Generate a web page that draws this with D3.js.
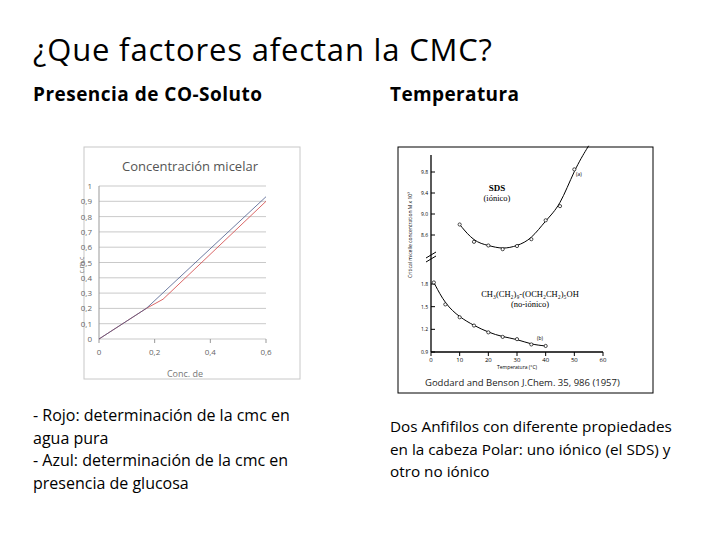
<!DOCTYPE html>
<html><head><meta charset="utf-8">
<script src="https://cdn.jsdelivr.net/npm/d3@7"></script>
<style>body{margin:0;background:#fff}svg{font-family:"Open Sans",sans-serif}</style>
</head><body><div id="svg-area"></div>
<script>
// left chart: concentracion micelar
const concX = [0, 0.17, 0.23, 0.6]
const rojo = [0, 0.2, 0.26, 0.9]
const azulX = [0, 0.17, 0.6]
const azul = [0, 0.2, 0.93]
const leftXTicks = [0, 0.2, 0.4, 0.6]
const leftYTicks = [0, 0.1, 0.2, 0.3, 0.4, 0.5, 0.6, 0.7, 0.8, 0.9, 1]

// right chart: cmc vs temperatura
const sdsT = [10, 15, 20, 25, 30, 35, 40, 45, 50]
const sdsCmc = [8.8, 8.47, 8.4, 8.33, 8.39, 8.52, 8.88, 9.15, 9.85]
const noT = [1, 5, 10, 15, 20, 25, 30, 35, 40]
const noCmc = [1.82, 1.53, 1.36, 1.25, 1.16, 1.1, 1.07, 1.0, 0.98]
const tempTicks = [0, 10, 20, 30, 40, 50, 60]
const upperTicks = [8.6, 9.0, 9.4, 9.8]
const lowerTicks = [0.9, 1.2, 1.5, 1.8]

const svg = d3.select("#svg-area").append("svg").attr("width", 720).attr("height", 540)

svg.append("text").attr("x", 33).attr("y", 61).attr("font-size", 31).attr("textLength", 459).text("¿Que factores afectan la CMC?")
svg.append("text").attr("x", 33).attr("y", 101).attr("font-size", 19).attr("font-weight", "bold").attr("textLength", 229).text("Presencia de CO-Soluto")
svg.append("text").attr("x", 390).attr("y", 101).attr("font-size", 19).attr("font-weight", "bold").attr("textLength", 129).text("Temperatura")

const leftLines = ["- Rojo: determinación de la cmc en", "agua pura", "- Azul: determinación de la cmc en", "presencia de glucosa"]
leftLines.forEach((t, i) => svg.append("text").attr("x", 33).attr("y", 421 + i * 22.5).attr("font-size", 16).text(t))
const rightLines = ["Dos Anfifilos con diferente propiedades", "en la cabeza Polar:  uno iónico (el SDS) y", "otro no iónico"]
rightLines.forEach((t, i) => svg.append("text").attr("x", 390).attr("y", 432 + i * 22.5).attr("font-size", 15.3).text(t))

// ---- left chart
const lg = svg.append("g")
lg.append("rect").attr("x", 84).attr("y", 147).attr("width", 216).attr("height", 232).attr("fill", "#fff").attr("stroke", "#c8c8c8")
lg.append("text").attr("x", 190).attr("y", 171).attr("text-anchor", "middle").attr("font-size", 13).attr("fill", "#555").text("Concentración micelar")
const lx = d3.scaleLinear().domain([0, 0.6]).range([99, 266])
const ly = d3.scaleLinear().domain([0, 1]).range([339, 186])
leftYTicks.forEach(v => {
  lg.append("line").attr("x1", 99).attr("x2", 266).attr("y1", ly(v)).attr("y2", ly(v)).attr("stroke", "#bbb").attr("stroke-width", 0.8)
  lg.append("text").attr("x", 92).attr("y", ly(v) + 3).attr("text-anchor", "end").attr("font-size", 8).attr("fill", "#666").text(String(v).replace(".", ","))
})
lg.append("line").attr("x1", 99).attr("x2", 99).attr("y1", 186).attr("y2", 339).attr("stroke", "#999")
leftXTicks.forEach(v => {
  lg.append("line").attr("x1", lx(v)).attr("x2", lx(v)).attr("y1", 339).attr("y2", 343).attr("stroke", "#999")
  lg.append("text").attr("x", lx(v)).attr("y", 355).attr("text-anchor", "middle").attr("font-size", 8).attr("fill", "#666").text(String(v).replace(".", ","))
})
lg.append("text").attr("x", 185).attr("y", 377).attr("text-anchor", "middle").attr("font-size", 9).attr("fill", "#777").text("Conc. de")
lg.append("text").attr("transform", "translate(84,265) rotate(-90)").attr("text-anchor", "middle").attr("font-size", 7).attr("fill", "#777").text("c.m.c")
const lline = d3.line().x(d => lx(d[0])).y(d => ly(d[1]))
lg.append("path").attr("d", lline(concX.map((x, i) => [x, rojo[i]]))).attr("fill", "none").attr("stroke", "#d04040").attr("stroke-width", 0.8)
lg.append("path").attr("d", lline(azulX.map((x, i) => [x, azul[i]]))).attr("fill", "none").attr("stroke", "#4a5a8a").attr("stroke-width", 0.8)

// ---- right chart
const rg = svg.append("g")
rg.append("rect").attr("x", 398).attr("y", 147).attr("width", 255).attr("height", 246).attr("fill", "#fff").attr("stroke", "#000")
const tx = d3.scaleLinear().domain([0, 60]).range([431, 603])
const yu = d3.scaleLinear().domain([8.6, 9.8]).range([235, 172])
const yl = d3.scaleLinear().domain([0.9, 1.8]).range([352, 284])
rg.append("line").attr("x1", 431).attr("x2", 431).attr("y1", 155).attr("y2", 352).attr("stroke", "#000").attr("stroke-width", 1.3)
rg.append("line").attr("x1", 431).attr("x2", 603).attr("y1", 352).attr("y2", 352).attr("stroke", "#000").attr("stroke-width", 1.3)
rg.append("path").attr("d", "M426,262 L436,256 M426,258 L436,252").attr("stroke", "#000")
tempTicks.forEach(v => {
  rg.append("line").attr("x1", tx(v)).attr("x2", tx(v)).attr("y1", 352).attr("y2", 356).attr("stroke", "#000")
  rg.append("text").attr("x", tx(v)).attr("y", 362).attr("text-anchor", "middle").attr("font-size", 6).text(v)
})
upperTicks.forEach(v => {
  rg.append("line").attr("x1", 431).attr("x2", 435).attr("y1", yu(v)).attr("y2", yu(v)).attr("stroke", "#000")
  rg.append("text").attr("x", 428).attr("y", yu(v) + 2).attr("text-anchor", "end").attr("font-size", 5).text(v.toFixed(1))
})
lowerTicks.forEach(v => {
  rg.append("line").attr("x1", 431).attr("x2", 435).attr("y1", yl(v)).attr("y2", yl(v)).attr("stroke", "#000")
  rg.append("text").attr("x", 428).attr("y", yl(v) + 2).attr("text-anchor", "end").attr("font-size", 5).text(v.toFixed(1))
})
rg.append("text").attr("x", 517).attr("y", 369).attr("text-anchor", "middle").attr("font-size", 5).text("Temperatura (°C)")
rg.append("text").attr("transform", "translate(412,235) rotate(-90)").attr("text-anchor", "middle").attr("font-size", 5).text("Critical micelle concentration M x 10³")
const curve = d3.line().curve(d3.curveBasis)
const sdsPts = sdsT.map((t, i) => [tx(t), yu(sdsCmc[i])])
rg.append("path").attr("d", curve(sdsPts.concat([[tx(55), yu(10.3)]]))).attr("fill", "none").attr("stroke", "#000")
rg.selectAll(".sp").data(sdsPts).enter().append("circle").attr("cx", d => d[0]).attr("cy", d => d[1]).attr("r", 1.6).attr("fill", "#fff").attr("stroke", "#000").attr("stroke-width", 0.7)
const noPts = noT.map((t, i) => [tx(t), yl(noCmc[i])])
rg.append("path").attr("d", curve(noPts)).attr("fill", "none").attr("stroke", "#000")
rg.selectAll(".np").data(noPts).enter().append("circle").attr("cx", d => d[0]).attr("cy", d => d[1]).attr("r", 1.6).attr("fill", "#fff").attr("stroke", "#000").attr("stroke-width", 0.7)
rg.append("text").attr("x", 497).attr("y", 191).attr("text-anchor", "middle").attr("font-size", 9).attr("font-weight", "bold").attr("font-family", "Liberation Serif").text("SDS")
rg.append("text").attr("x", 497).attr("y", 201).attr("text-anchor", "middle").attr("font-size", 8.5).attr("font-family", "Liberation Serif").text("(iónico)")
rg.append("text").attr("x", 530).attr("y", 297).attr("text-anchor", "middle").attr("font-size", 8.5).attr("font-family", "Liberation Serif").text("CH₃(CH₂)₉-(OCH₂CH₂)₅OH")
rg.append("text").attr("x", 530).attr("y", 307).attr("text-anchor", "middle").attr("font-size", 8.5).attr("font-family", "Liberation Serif").text("(no-iónico)")
rg.append("text").attr("x", 576).attr("y", 176).attr("font-size", 5).text("(a)")
rg.append("text").attr("x", 537).attr("y", 340).attr("font-size", 5).text("(b)")
rg.append("text").attr("x", 425).attr("y", 386).attr("font-size", 9.5).attr("fill", "#222").text("Goddard and Benson J.Chem. 35, 986 (1957)")
</script></body></html>
